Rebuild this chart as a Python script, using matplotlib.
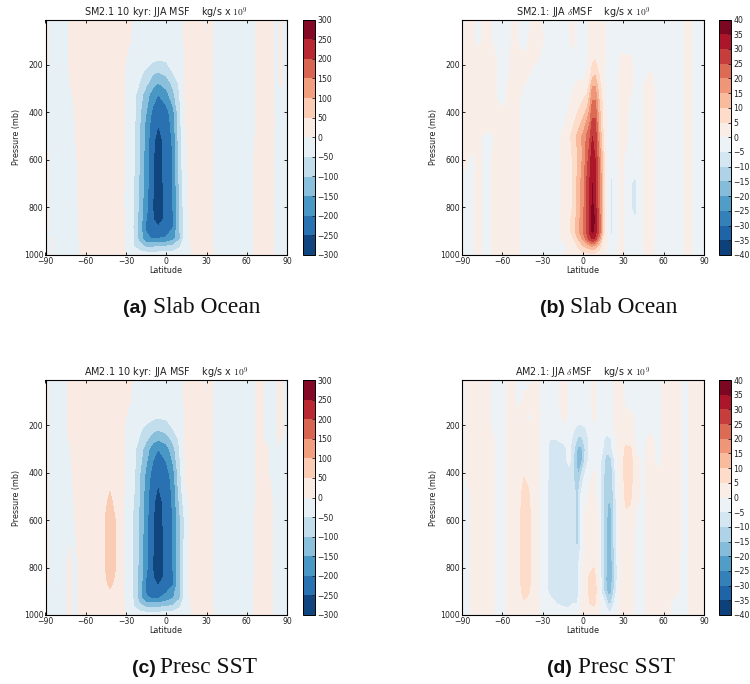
import numpy as np
import matplotlib
matplotlib.use("Agg")
import matplotlib.pyplot as plt

W, H = 750, 684

msf_levels = [-300, -250, -200, -150, -100, -50, 0, 50, 100, 150, 200, 250, 300]
dmsf_levels = [-40, -35, -30, -25, -20, -15, -10, -5, 0, 5, 10, 15, 20, 25, 30, 35, 40]
lat_ticks = [-90, -60, -30, 0, 30, 60, 90]
p_ticks = [200, 400, 600, 800, 1000]

# (a) SM2.1 10 kyr MSF
lat_a = [-90, -88, -85, -80, -72, -66, -60, -40, -32, -28, -24, -20, -15, -10, -6, 0, 5, 10, 14, 18, 25, 30, 33, 37, 50, 63, 67, 75, 82, 86, 90]
p_a = [10, 100, 180, 230, 275, 325, 400, 450, 520, 600, 800, 850, 880, 930, 965, 1000]
msf_a = [
    [-4, 2, -10, -15, 1, 15, 20, 20, 12, 4, -2, -10, -12, -12, -12, -12, -12, -10, 3, 12, 15, -2, 3, -5, -15, -10, 1, 5, -2, 1, -4],
    [-4, 2, -12, -18, 2, 18, 25, 25, 12, 2, -4, -14, -20, -22, -22, -20, -18, -12, 3, 15, 18, -1, 3, -6, -18, -12, 1, 5, -2, 1, -4],
    [-4, 1, -12, -20, 2, 20, 28, 28, 3, -5, -12, -20, -28, -42, -50, -44, -35, -18, 3, 18, 20, 6, 4, -6, -20, -14, 2, 5, -2, 1, -4],
    [-4, -1, -12, -20, 1, 20, 30, 30, 2, -6, -22, -38, -60, -90, -100, -85, -48, -25, 1, 18, 22, 15, 4, -6, -22, -15, 2, 6, -2, 1, -4],
    [-4, -1, -12, -20, -1, 20, 32, 32, 2, -8, -30, -50, -85, -130, -150, -125, -85, -40, 1, 18, 24, 18, 4, -6, -22, -15, 2, 6, -2, 1, -4],
    [-4, -1, -12, -20, -5, 10, 32, 32, 2, -10, -40, -70, -130, -175, -200, -170, -115, -50, 1, 18, 25, 20, 5, -6, -22, -15, 2, 6, -2, -1, -4],
    [-4, -1, -12, -20, -8, 5, 32, 32, 2, -12, -38, -90, -150, -215, -240, -220, -168, -62, -1, 15, 25, 20, 5, -6, -22, -15, 3, 6, -2, -1, -4],
    [-4, -1, -12, -20, -9, 4, 32, 32, 2, -12, -42, -95, -165, -230, -250, -230, -180, -65, -3, 15, 25, 20, 5, -6, -22, -15, 3, 7, -2, -2, -4],
    [-4, -1, -12, -20, -10, 3, 30, 32, 2, -12, -46, -98, -172, -242, -268, -235, -192, -70, -6, 12, 25, 20, 5, -6, -22, -10, 3, 7, -3, -3, -4],
    [2, 1, -8, -15, -12, 1, 28, 32, 2, -12, -48, -100, -175, -245, -275, -228, -200, -75, -10, 10, 25, 20, 5, -6, -22, -5, 4, 8, -3, -3, -4],
    [2, 1, -8, -15, -14, -1, 20, 30, 2, -15, -55, -115, -185, -250, -280, -235, -200, -100, -20, 8, 22, 20, 5, -6, -22, -4, 4, 8, -3, -3, -4],
    [2, 1, -8, -15, -14, -2, 19, 30, 2, -12, -58, -117, -200, -248, -268, -240, -203, -100, -21, 5, 22, 20, 5, -6, -21, -3, 4, 8, -3, -3, -4],
    [2, 1, -8, -15, -14, -2, 18, 30, 2, -10, -60, -118, -210, -240, -250, -235, -205, -100, -22, 3, 22, 20, 5, -6, -20, -3, 4, 8, -3, -3, -4],
    [-2, -4, 1, -15, -15, -3, 16, 28, 2, -10, -58, -120, -190, -205, -200, -195, -170, -110, -25, 2, 20, 18, 5, -6, -20, -3, 4, 8, -3, -3, -4],
    [-2, -4, 1, -14, -15, -4, 15, 25, 2, -8, -50, -80, -105, -105, -100, -95, -85, -55, -25, -1, 15, 15, 5, -6, -18, -3, 4, 8, -3, -3, -4],
    [-2, -4, 1, -12, -15, -4, 15, 18, 3, -4, -12, -18, -22, -24, -22, -20, -18, -14, -8, -2, 12, 12, 5, -5, -15, -3, 4, 7, -3, -3, -3],
]

# (b) SM2.1 delta MSF
lat_b = [-90, -82, -79, -72, -60, -50, -47, -42, -38, -25, -14, -8, -4, 0, 3, 5, 7, 9, 12, 15, 18, 21, 24, 28, 32, 36, 39, 42, 46, 50, 54, 74, 78, 82, 90]
p_b = [10, 100, 180, 245, 290, 350, 425, 500, 600, 700, 800, 850, 900, 930, 965, 1000]
dmsf_b = [
    [2, 1, -1, 1, -2, 1, -1, -2, 1, -1, -2, 1, -1, -2, -1, 1, 2, 2, 2, 1, -1, -2, -2, -1, -2, -2, -2, -2, -2, -2, -2, -1, 2, -1, -1],
    [2, 1, -1, 1, -2, 1, -1, -1, 2, -1, -3, 1, -1, -2, -1, 1, 3, 3, 3, 1, -1, -3, -3, -2, -3, -3, -3, -3, -3, -3, -3, -1, 2, -1, -1],
    [2, 1, 1, 2, -1, 1, 1, 1, 1, -2, -3, -1, -2, -1, -1, 2, 4, 5, 3, 1, -1, -3, -3, 1, 1, 1, -3, -3, -3, -3, -3, -1, 2, -1, -1],
    [2, 1, 1, 2, -1, 1, 1, 1, -1, -3, -3, -2, -1, -1, 1, 3, 8, 10, 5, 1, -2, -3, -2, 1, 2, 1, -2, -2, -1, 1, -1, -1, 2, -1, -1],
    [2, 1, 1, 2, -1, 2, 1, -1, -2, -3, -3, -1, 1, 1, 3, 7, 15, 15, 7, 2, -2, -3, -2, 1, 2, 1, -2, -2, 1, 3, -1, -1, 2, -1, -1],
    [2, 1, 1, 2, -1, 2, 0, -1, -2, -3, -3, 1, 3, 5, 7, 12, 20, 20, 10, 3, -2, -3, -2, 1, 2, -1, -2, -2, 1, 3, -1, -1, 2, -1, -1],
    [2, 1, 1, 2, 1, 2, 0, -1, -2, -3, -1, 3, 6, 10, 14, 18, 25, 25, 13, 4, -1, -3, -2, 1, 1, -2, -2, -2, 1, 3, -1, -1, 2, -1, -1],
    [2, 1, 1, -1, 1, 2, 0, -1, -2, -3, 1, 6, 11, 16, 21, 24, 30, 29, 15, 5, -1, -3, -2, 1, 1, -2, -2, -2, 1, 3, -1, -1, 2, -1, -1],
    [2, -1, 1, -1, 2, 2, 0, -1, -2, -3, 1, 5, 10, 16, 23, 28, 33, 30, 20, 8, -2, -4, -2, 1, -1, -3, -3, -2, 1, 3, -1, -1, 2, -1, -1],
    [-1, -1, 1, -1, 2, 2, 0, -1, -2, -3, 1, 5, 11, 18, 26, 30, 35, 31, 22, 8, -2, -6, -3, 1, -1, -5, -6, -3, 1, 3, -1, -1, 2, -1, -1],
    [-1, -1, 1, -1, 2, 2, 0, -1, -2, -3, 1, 5, 11, 18, 26, 30, 36, 32, 22, 8, -2, -6, -3, 1, -1, -5, -6, -3, 1, 3, -1, -1, 2, -1, -1],
    [-1, -1, 1, -1, 2, 2, 0, -1, -2, -3, 1, 6, 12, 19, 26, 31, 38, 34, 24, 9, -1, -6, -3, 1, -1, -4, -5, -3, 1, 3, -1, -1, 2, -1, -1],
    [-1, -1, 1, -1, 2, 2, 0, -1, -2, -3, 1, 6, 13, 20, 26, 31, 36, 33, 24, 9, -1, -6, -3, 1, -1, -3, -2, -2, 1, 3, -1, -1, 2, -1, -1],
    [-1, -1, 1, -1, 2, 2, 0, -1, -2, -3, 1, 4, 10, 16, 23, 28, 31, 29, 18, 4, 0, -5, -3, 1, -1, -3, -2, -2, 1, 3, -1, -1, 2, -1, -1],
    [-1, -1, 1, -1, 2, 2, 0, -1, -2, -3, -1, 2, 5, 9, 11, 12, 14, 12, 7, 3, 0, -2, -1, 1, -1, -3, -2, -2, 1, 2, -1, -1, 2, -1, -1],
    [-1, -1, 1, -1, 2, 2, 0, -1, -2, -3, 0, 2, 3, 3, 3, 3, 3, 3, 2, 1, -1, -2, -1, 1, -1, -3, -2, -2, 1, 2, -1, -1, 2, -1, -1],
]

# (c) AM2.1 10 kyr MSF
lat_c = [-90, -88, -85, -80, -75, -72, -69, -65, -60, -48, -42, -37, -32, -28, -24, -20, -15, -10, -6, 0, 5, 10, 14, 18, 25, 30, 33, 37, 50, 63, 67, 70, 75, 80, 84, 87, 90]
p_c = [10, 100, 170, 220, 263, 300, 400, 450, 520, 600, 800, 840, 870, 928, 965, 1000]
msf_c = [
    [-4, 2, -10, -15, -3, 3, 8, 14, 18, 25, 25, 22, 12, 4, -2, -10, -12, -12, -12, -12, -12, -10, 3, 12, 15, -2, 3, -5, -15, -10, 2, 2, -2, -3, 1, 1, -4],
    [-4, 2, -12, -18, -3, 3, 8, 16, 22, 28, 28, 25, 12, 2, -4, -14, -20, -22, -24, -20, -18, -12, 3, 15, 18, -1, 3, -6, -18, -12, 2, 2, -2, -3, 1, 1, -4],
    [-4, 2, -12, -20, -3, 3, 8, 16, 25, 30, 30, 28, 3, -5, -12, -20, -32, -44, -50, -44, -35, -18, 3, 18, 20, 2, 4, -6, -20, -14, 2, 2, -2, -3, 1, 1, -4],
    [-4, 2, -12, -20, -3, 3, 8, 16, 25, 32, 32, 30, 2, -6, -22, -42, -68, -90, -100, -85, -52, -26, 1, 18, 22, 15, 4, -6, -22, -15, 2, 2, -2, -3, 1, 1, -4],
    [-4, 2, -12, -20, -3, 1, 6, 16, 25, 32, 34, 30, 2, -8, -30, -55, -95, -135, -150, -130, -90, -42, 1, 18, 24, 18, 4, -6, -22, -15, 2, 2, -2, -3, 1, -1, -4],
    [-4, 2, -12, -20, -8, -1, 3, 10, 22, 33, 35, 32, 2, -10, -40, -72, -125, -180, -200, -175, -120, -48, 1, 18, 25, 20, 5, -6, -22, -15, 2, 3, 1, -3, -1, -1, -4],
    [-4, 2, -12, -20, -10, -2, 1, 8, 22, 35, 40, 35, 2, -12, -42, -95, -160, -220, -242, -222, -170, -65, -1, 15, 25, 20, 5, -6, -22, -15, 3, 3, 1, -3, -1, -1, -4],
    [-4, 2, -12, -20, -10, -3, 1, 8, 22, 36, 46, 36, 2, -12, -45, -100, -170, -235, -250, -232, -185, -70, -3, 15, 25, 20, 5, -6, -22, -15, 3, 4, 3, -2, -2, -1, -4],
    [2, 1, -12, -18, -9, -3, 0, 5, 21, 38, 55, 40, 2, -16, -55, -103, -178, -240, -270, -228, -192, -90, -20, 10, 25, 20, 5, -6, -22, -12, 3, 5, 4, -1, -3, -2, -4],
    [2, 1, -8, -15, -8, -3, -1, 3, 20, 40, 65, 46, 2, -20, -62, -105, -185, -245, -285, -225, -200, -110, -40, 6, 25, 20, 5, -6, -22, -10, 3, 6, 5, -1, -3, -2, -4],
    [2, 1, -8, -15, -2, 3, -3, 1, 12, 40, 62, 48, 2, -18, -60, -115, -190, -250, -285, -235, -200, -105, -30, 6, 22, 20, 5, -6, -22, -8, 4, 8, 7, -1, -4, -3, -4],
    [2, 1, -8, -15, -2, 3, -3, 1, 12, 39, 58, 45, 2, -16, -60, -115, -200, -248, -275, -237, -202, -105, -29, 5, 22, 20, 5, -6, -22, -7, 4, 8, 7, -1, -4, -3, -4],
    [2, 1, -8, -15, -2, 3, -3, 1, 12, 38, 55, 42, 2, -15, -60, -115, -215, -245, -252, -235, -205, -105, -28, 4, 22, 20, 5, -6, -22, -6, 4, 8, 7, -1, -4, -3, -4],
    [-4, -6, -8, -15, -2, 3, -3, 1, 10, 30, 38, 30, 2, -15, -62, -125, -195, -205, -205, -180, -155, -110, -28, 2, 20, 18, 5, -6, -20, -5, 4, 8, 7, -1, -4, -3, -4],
    [-4, -4, -8, -14, -2, 3, -3, 1, 10, 25, 28, 25, 2, -8, -50, -85, -105, -110, -105, -100, -90, -55, -25, -1, 15, 15, 5, -6, -18, -4, 4, 8, 6, -1, -4, -3, -4],
    [-4, -4, -8, -12, -2, 3, -3, 1, 8, 18, 18, 15, 3, -4, -12, -18, -22, -24, -22, -18, -16, -12, -8, -2, 12, 12, 5, -5, -15, -3, 4, 7, 5, -1, -3, -3, -3],
]

# (d) AM2.1 delta MSF
lat_d = [-90, -85, -82, -75, -66, -60, -54, -47, -44, -41, -35, -30, -25, -20, -14, -10, -7, -4, -1, 2, 5, 8, 11, 14, 17, 19, 21, 24, 28, 32, 35, 40, 45, 50, 55, 62, 68, 75, 82, 90]
p_d = [10, 100, 170, 210, 260, 300, 350, 420, 500, 600, 700, 800, 850, 900, 950, 1000]
dmsf_d = [
    [-1, 1, 1, 2, -1, -1, 1, -1, -1, -1, 1, -1, -1, -1, 1, -1, -2, -2, -2, -2, -1, 1, -1, -1, -1, -1, -1, 1, 1, -1, -1, -1, -1, -1, -1, 1, 2, -1, 1, 2],
    [-1, 1, 1, 2, -1, -1, 1, -1, 1, 1, 1, -1, -1, -1, 2, -1, -2, -2, -2, -2, -1, 1, -1, -1, -1, -1, -1, 1, 2, -1, -1, -1, -1, -1, -1, 1, 2, -1, 1, 2],
    [-1, 1, 1, 2, -1, -1, 1, 1, 1, -1, 1, -1, -2, -3, 1, -1, -2, -3, -3, -3, -2, 1, -1, -2, -2, -2, -1, 1, 2, 1, 1, -1, -1, -1, -1, 1, 2, -1, 1, 2],
    [-1, 1, 1, 3, -1, -1, 1, 1, 2, 1, 1, -1, -2, -3, -1, -2, -4, -6, -6, -5, -3, -1, -1, -3, -3, -3, -2, 1, 3, 2, 1, -1, -1, -1, -1, 1, 2, -1, 1, 2],
    [-1, 1, 1, 3, 0, -1, 1, 2, 2, 2, 1, -1, -5, -5, -4, -3, -7, -11, -11, -8, -4, -1, -1, -4, -6, -6, -5, -1, 2, 3, 2, -1, -1, 1, -1, 1, 2, -1, 1, 2],
    [-1, 1, 1, 3, 0, -1, 1, 2, 3, 2, 1, -1, -6, -6, -6, -4, -9, -16, -16, -9, -4, -2, -1, -4, -8, -8, -6, -1, 3, 6, 6, -1, -1, 2, -1, 1, 2, -1, 1, 2],
    [-1, 1, 1, 3, 0, -1, 1, 3, 4, 3, 1, -1, -6, -6, -6, -4, -10, -17, -16, -8, -3, -1, -2, -6, -12, -13, -11, -4, 2, 7, 7, 1, -1, 2, -1, 1, 2, -1, 1, 2],
    [-1, 1, 1, 3, 0, -1, 1, 3, 5, 4, 1, -1, -6, -7, -7, -7, -10, -15, -8, -3, -1, 1, -1, -7, -13, -14, -12, -5, 2, 7, 7, 1, -1, 3, 1, 1, 2, -1, 1, 2],
    [-1, -1, 1, 2, 0, -1, 1, 4, 7, 6, 1, -2, -6, -7, -7, -7, -9, -11, -3, -1, 1, 1, -1, -7, -14, -15, -14, -6, 2, 6, 6, 1, -1, 3, 2, 1, 2, -1, 1, 2],
    [-1, -1, 1, 2, 0, -1, 1, 4, 8, 7, 1, -2, -6, -7, -8, -8, -9, -11, -2, 1, 2, 2, 1, -7, -14, -17, -16, -7, 1, 4, 3, -1, -1, 3, 2, 1, 2, -1, 1, 2],
    [-1, -1, 1, 2, 0, -1, 1, 4, 8, 7, 1, -2, -6, -7, -8, -8, -9, -11, -3, 1, 3, 3, 1, -7, -14, -18, -16, -7, 1, 2, 2, -1, -1, 3, 2, 1, 2, -1, 1, 2],
    [-1, -1, 1, 2, 0, -1, 1, 4, 8, 7, 1, -2, -6, -7, -8, -8, -8, -6, -1, 2, 4, 5, 2, -7, -14, -19, -17, -8, 1, 2, 1, -1, -1, 3, 2, 1, 1, -1, 1, 2],
    [-1, -1, 1, 2, 0, -1, 1, 4, 8, 7, 1, -2, -6, -7, -8, -8, -8, -6, -1, 3, 6, 7, 3, -7, -15, -21, -17, -8, 1, 2, 1, -1, -1, 3, 2, 1, 1, -1, 1, 2],
    [-1, -1, 1, 2, 0, -1, 1, 4, 7, 6, 1, -2, -6, -7, -8, -8, -7, -6, -1, 3, 6, 8, 3, -6, -14, -17, -16, -7, 1, 1, 1, -1, -1, 3, 2, 1, 1, -1, 1, 2],
    [-1, -1, 1, 2, 0, -1, 1, 3, 4, 3, 1, -1, -3, -5, -6, -6, -5, -5, 1, 3, 5, 6, 3, -2, -6, -11, -10, -3, 1, 1, 1, -1, -1, 2, 2, 1, -1, -1, 1, 2],
    [-1, -1, 1, 2, 0, -1, 1, 2, 2, 2, 1, -1, -2, -3, -3, -3, -2, -1, 1, 2, 2, 2, 1, -1, -2, -3, -3, -1, 1, 1, 1, -1, -1, 2, 2, 1, -1, -1, 1, 2],
]

titles = ["SM2.1 10 kyr: JJA MSF    kg/s x $10^9$", r"SM2.1: JJA $\delta$MSF    kg/s x $10^9$",
          "AM2.1 10 kyr: JJA MSF    kg/s x $10^9$", r"AM2.1: JJA $\delta$MSF    kg/s x $10^9$"]
cap_tags = ["(a)", "(b)", "(c)", "(d)"]
cap_names = ["Slab Ocean", "Slab Ocean", "Presc SST", "Presc SST"]

plt.rcParams["mathtext.fontset"] = "cm"
plt.rcParams["font.size"] = 7


def box(l, t, r, b):
    return [l / W, 1 - b / H, (r - l) / W, (b - t) / H]


def panel(fig, pos, cpos, lat, p, z, levels, title):
    ax = fig.add_axes(box(*pos))
    cf = ax.contourf(lat, p, np.array(z), levels, cmap="RdBu_r")
    ax.set_xlim(-90, 90)
    ax.set_ylim(1000, 10)
    ax.set_xticks(lat_ticks)
    ax.set_yticks(p_ticks)
    ax.tick_params(direction="in", top=True, right=True, length=2.5, width=0.7, pad=1.5, labelsize=5.6, colors="#222222")
    ax.set_xlabel("Latitude", fontsize=5.8, color="#222222")
    ax.set_ylabel("Pressure (mb)", fontsize=5.8, color="#222222")
    ax.xaxis.set_label_coords(0.5, -0.047)
    ax.yaxis.set_label_coords(-0.10, 0.5)
    ax.set_title(title, fontsize=6.9, pad=2.5, color="#222222")
    cax = fig.add_axes(box(*cpos))
    cb = fig.colorbar(cf, cax=cax, ticks=levels)
    cb.ax.tick_params(direction="in", length=2, width=0.6, pad=1.5, labelsize=5.6, colors="#222222")
    cb.outline.set_linewidth(0.7)


fig = plt.figure(figsize=(W / 100, H / 100), dpi=100)
panel(fig, (45.5, 19.5, 287, 255), (302.5, 19.5, 315, 255), lat_a, p_a, msf_a, msf_levels, titles[0])
panel(fig, (462, 19.5, 704, 255), (719, 19.5, 731, 255), lat_b, p_b, dmsf_b, dmsf_levels, titles[1])
panel(fig, (45.5, 380, 287, 615), (302.5, 380, 315, 615), lat_c, p_c, msf_c, msf_levels, titles[2])
panel(fig, (462, 380, 704, 615), (719, 380, 731, 615), lat_d, p_d, dmsf_d, dmsf_levels, titles[3])

tag_x = [123, 540, 132, 547]
name_x = [153, 570, 160, 578]
cap_y = [313, 313, 673, 673]
for i in range(4):
    fig.text(tag_x[i] / W, 1 - cap_y[i] / H, cap_tags[i], family="Liberation Sans", weight="bold", fontsize=14, color="#111111")
    fig.text(name_x[i] / W, 1 - cap_y[i] / H, cap_names[i], family="Liberation Serif", fontsize=16.8, color="#111111")

fig.savefig("out.png", dpi=100)
